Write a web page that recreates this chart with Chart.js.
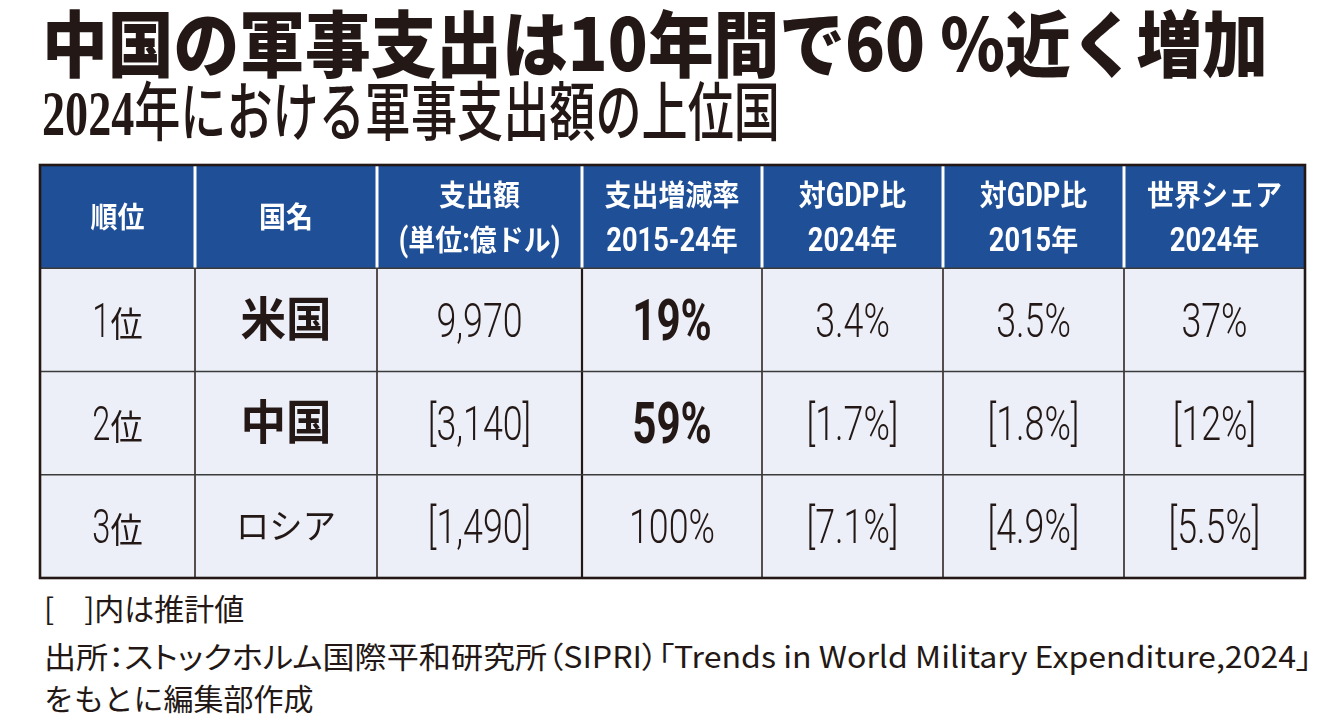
<!DOCTYPE html>
<html lang="ja">
<head>
<meta charset="utf-8">
<script src="https://cdn.jsdelivr.net/npm/chart.js@4.4.1/dist/chart.umd.min.js"></script>
<style>
  html,body{margin:0;padding:0;background:#fff;width:1340px;height:724px;overflow:hidden;}
  .txt{position:absolute;white-space:nowrap;color:#231815;transform-origin:0 0;}
  #title{left:42px;top:4px;font:900 72px/72px "Noto Sans CJK JP",sans-serif;}
  #subtitle{left:42px;top:82px;font:500 64px/64px "Liberation Serif","Noto Sans CJK JP",serif;}
  #subtitle b{font-weight:700;}
  .note{left:44px;font:400 30px/30px "Noto Sans CJK JP",sans-serif;}
  #n2{font-feature-settings:"palt";}
  #box{position:absolute;left:37px;top:162px;width:1271px;height:419px;}
</style>
</head>
<body>
<div id="title" class="txt">中国の軍事支出は10年間で60 %近く増加</div>
<div id="subtitle" class="txt"><b>2024</b>年における軍事支出額の上位国</div>
<div id="box"><canvas id="c"></canvas></div>
<div id="n1" class="txt note" style="top:592px">[　]内は推計値</div>
<div id="n2" class="txt note" style="top:640px">出所：ストックホルム国際平和研究所（SIPRI）「Trends in World Military Expenditure,2024」</div>
<div id="n3" class="txt note" style="top:682px">をもとに編集部作成</div>
<script>
// ---- data ----
const columnHeaders = [
  ['順位'], ['国名'], ['支出額', '(単位:億ドル)'], ['支出増減率', '2015-24年'],
  ['対GDP比', '2024年'], ['対GDP比', '2015年'], ['世界シェア', '2024年']
];
const ranks = ['1位', '2位', '3位'];
const countries = ['米国', '中国', 'ロシア'];
const spending = ['9,970', '[3,140]', '[1,490]'];
const growth = ['19%', '59%', '100%'];
const gdp2024 = ['3.4%', '[1.7%]', '[7.1%]'];
const gdp2015 = ['3.5%', '[1.8%]', '[4.9%]'];
const share2024 = ['37%', '[12%]', '[5.5%]'];

// ---- layout / style (not data) ----
const columns = [ranks, countries, spending, growth, gdp2024, gdp2015, share2024];
const colWidths = [155, 182, 205, 180, 181, 181, 181];
const rowKeys = ['header', 'r1', 'r2', 'r3'];
const emphasis = {1: [0, 1], 3: [0, 1]}; // column -> bold rows
const BLUE = '#1f4f97', CELL = '#eceff8', INK = '#231815';

const ST = {
  header: {color: '#fff', baseline: 11,
    latin: {font: 'bold 34px Roboto', sx: 0.8},
    cjk: {font: 'bold 29px "Noto Sans CJK JP"', sx: 0.93}},
  rank: {color: INK, baseline: 17,
    latin: {font: '300 48px Roboto', sx: 0.68},
    cjk: {font: '400 35px "Noto Sans CJK JP"', sx: 0.92}},
  nameBold: {color: INK, baseline: 16,
    latin: {font: 'bold 46px Roboto', sx: 0.8},
    cjk: {font: 'bold 47px "Noto Sans CJK JP"', sx: 0.97}},
  name: {color: INK, baseline: 13,
    latin: {font: '300 32px Roboto', sx: 0.8},
    cjk: {font: '400 35px "Noto Sans CJK JP"', sx: 0.95}},
  num: {color: INK, baseline: 17,
    latin: {font: '300 49px Roboto', sx: 0.73},
    cjk: {font: '300 32px "Noto Sans CJK JP"', sx: 1}},
  numBold: {color: INK, baseline: 20,
    latin: {font: 'bold 57px Roboto', sx: 0.74},
    cjk: {font: 'bold 32px "Noto Sans CJK JP"', sx: 1}}
};

function drawRuns(ctx, text, cx, baseY, st) {
  const parts = text.match(/[\x00-\x7F]+|[^\x00-\x7F]+/g) || [];
  const runs = parts.map(p => {
    const f = /^[\x00-\x7F]/.test(p) ? st.latin : st.cjk;
    ctx.font = f.font;
    return {p, f, w: ctx.measureText(p).width * f.sx};
  });
  const total = runs.reduce((a, r) => a + r.w, 0);
  let x = cx - total / 2;
  runs.forEach(r => {
    ctx.save();
    ctx.translate(x, baseY);
    ctx.scale(r.f.sx, 1);
    ctx.font = r.f.font;
    ctx.fillStyle = st.color;
    ctx.textAlign = 'left';
    ctx.textBaseline = 'alphabetic';
    ctx.fillText(r.p, 0, 0);
    ctx.restore();
    x += r.w;
  });
}

const tablePlugin = {
  id: 'tableCells',
  afterDatasetsDraw(chart) {
    const ctx = chart.ctx, area = chart.chartArea;
    const xs = chart.scales.x;
    const metas = chart.data.datasets.map((d, i) => chart.getDatasetMeta(i));
    const head = metas[0].data[0];
    const headTop = head.y - head.height / 2, headBot = head.y + head.height / 2;
    ctx.save();
    let acc = 0;
    for (let c = 0; c < colWidths.length - 1; c++) {
      acc += colWidths[c];
      const x = xs.getPixelForValue(acc);
      ctx.strokeStyle = '#ffffff'; ctx.lineWidth = 3;
      ctx.beginPath(); ctx.moveTo(x, headTop); ctx.lineTo(x, headBot); ctx.stroke();
      ctx.strokeStyle = INK; ctx.lineWidth = (c === 2) ? 2.2 : 1.5;
      ctx.beginPath(); ctx.moveTo(x, headBot); ctx.lineTo(x, area.bottom); ctx.stroke();
    }
    for (let r = 1; r < rowKeys.length; r++) {
      const b = metas[0].data[r];
      const y = b.y - b.height / 2;
      ctx.strokeStyle = '#3a3a3a'; ctx.lineWidth = 1.6;
      ctx.beginPath(); ctx.moveTo(area.left, y); ctx.lineTo(area.right, y); ctx.stroke();
    }
    ctx.strokeStyle = INK; ctx.lineWidth = 2.6;
    ctx.strokeRect(area.left, area.top, area.right - area.left, area.bottom - area.top);
    ctx.restore();

    metas.forEach((meta, c) => {
      meta.data.forEach((bar, r) => {
        const cx = (bar.x + bar.base) / 2, cy = bar.y;
        if (r === 0) {
          const lines = columnHeaders[c];
          if (lines.length === 1) {
            drawRuns(ctx, lines[0], cx, cy + ST.header.baseline, ST.header);
          } else {
            drawRuns(ctx, lines[0], cx, cy - 22 + ST.header.baseline, ST.header);
            drawRuns(ctx, lines[1], cx, cy + 23 + ST.header.baseline, ST.header);
          }
          return;
        }
        const text = columns[c][r - 1];
        const bold = (emphasis[c] || []).includes(r - 1);
        let st;
        if (c === 0) st = ST.rank;
        else if (c === 1) st = bold ? ST.nameBold : ST.name;
        else st = bold ? ST.numBold : ST.num;
        drawRuns(ctx, text, cx, cy + st.baseline, st);
      });
    });
  }
};

const datasets = columns.map((col, c) => ({
  label: columnHeaders[c].join(' '),
  data: rowKeys.map(() => colWidths[c]),
  backgroundColor: rowKeys.map((k, r) => r === 0 ? BLUE : CELL),
  borderWidth: 0,
  barPercentage: 1,
  categoryPercentage: 1
}));

new Chart(document.getElementById('c'), {
  type: 'bar',
  data: {labels: rowKeys, datasets},
  options: {
    indexAxis: 'y',
    responsive: true,
    maintainAspectRatio: false,
    animation: false,
    layout: {padding: 3},
    plugins: {legend: {display: false}, tooltip: {enabled: false}, title: {display: false}},
    scales: {
      x: {type: 'linear', stacked: true, min: 0, max: colWidths.reduce((a, b) => a + b, 0), display: false},
      y: {type: 'category', stacked: true, offset: true, display: false}
    }
  },
  plugins: [tablePlugin]
});

function fit(id, w) {
  const el = document.getElementById(id);
  el.style.transform = 'scaleX(' + (w / el.scrollWidth) + ')';
}
document.fonts.ready.then(() => {
  fit('title', 1226);
  fit('subtitle', 738);
  fit('n2', 1268);
});
</script>
</body>
</html>
